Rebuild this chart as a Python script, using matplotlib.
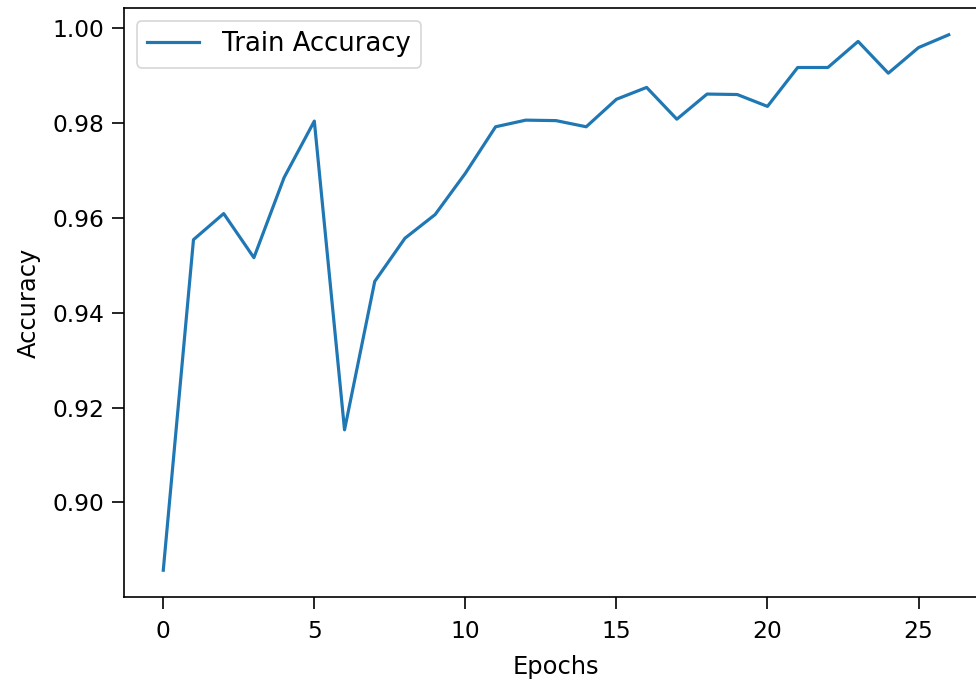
import matplotlib
matplotlib.use("Agg")
import matplotlib.pyplot as plt

epochs = list(range(27))
train_accuracy = [0.8857, 0.9554, 0.9609, 0.9516, 0.9685, 0.9804, 0.9153, 0.9466,
                  0.9557, 0.9607, 0.9694, 0.9792, 0.9806, 0.9805, 0.9792, 0.9850,
                  0.9875, 0.9808, 0.9861, 0.9860, 0.9835, 0.9917, 0.9917, 0.9972,
                  0.9905, 0.9959, 0.9986]
y_ticks = [0.90, 0.92, 0.94, 0.96, 0.98, 1.00]

plt.rcParams.update({
    "font.size": 14.5,
    "xtick.labelsize": 14,
    "ytick.labelsize": 14,
    "legend.fontsize": 15.5,
    "lines.linewidth": 1.9,
    "xtick.major.size": 7,
    "ytick.major.size": 7,
    "xtick.major.pad": 7,
    "ytick.major.pad": 5,
    "xtick.major.width": 1.0,
    "ytick.major.width": 1.0,
    "axes.linewidth": 1.0,
})

dpi = 120
fig = plt.figure(figsize=(976 / dpi, 681 / dpi), dpi=dpi)
ax = fig.add_axes([124 / 976, 1 - 597 / 681, 864 / 976, 589 / 681])
ax.plot(epochs, train_accuracy, color="#1f77b4", label="Train Accuracy")
ax.set_xlabel("Epochs", labelpad=7)
ax.set_ylabel("Accuracy", labelpad=7)
ax.set_yticks(y_ticks)
ax.legend(loc="upper left", handletextpad=0.9, handlelength=2.0)
fig.savefig("out.png", dpi=dpi)
